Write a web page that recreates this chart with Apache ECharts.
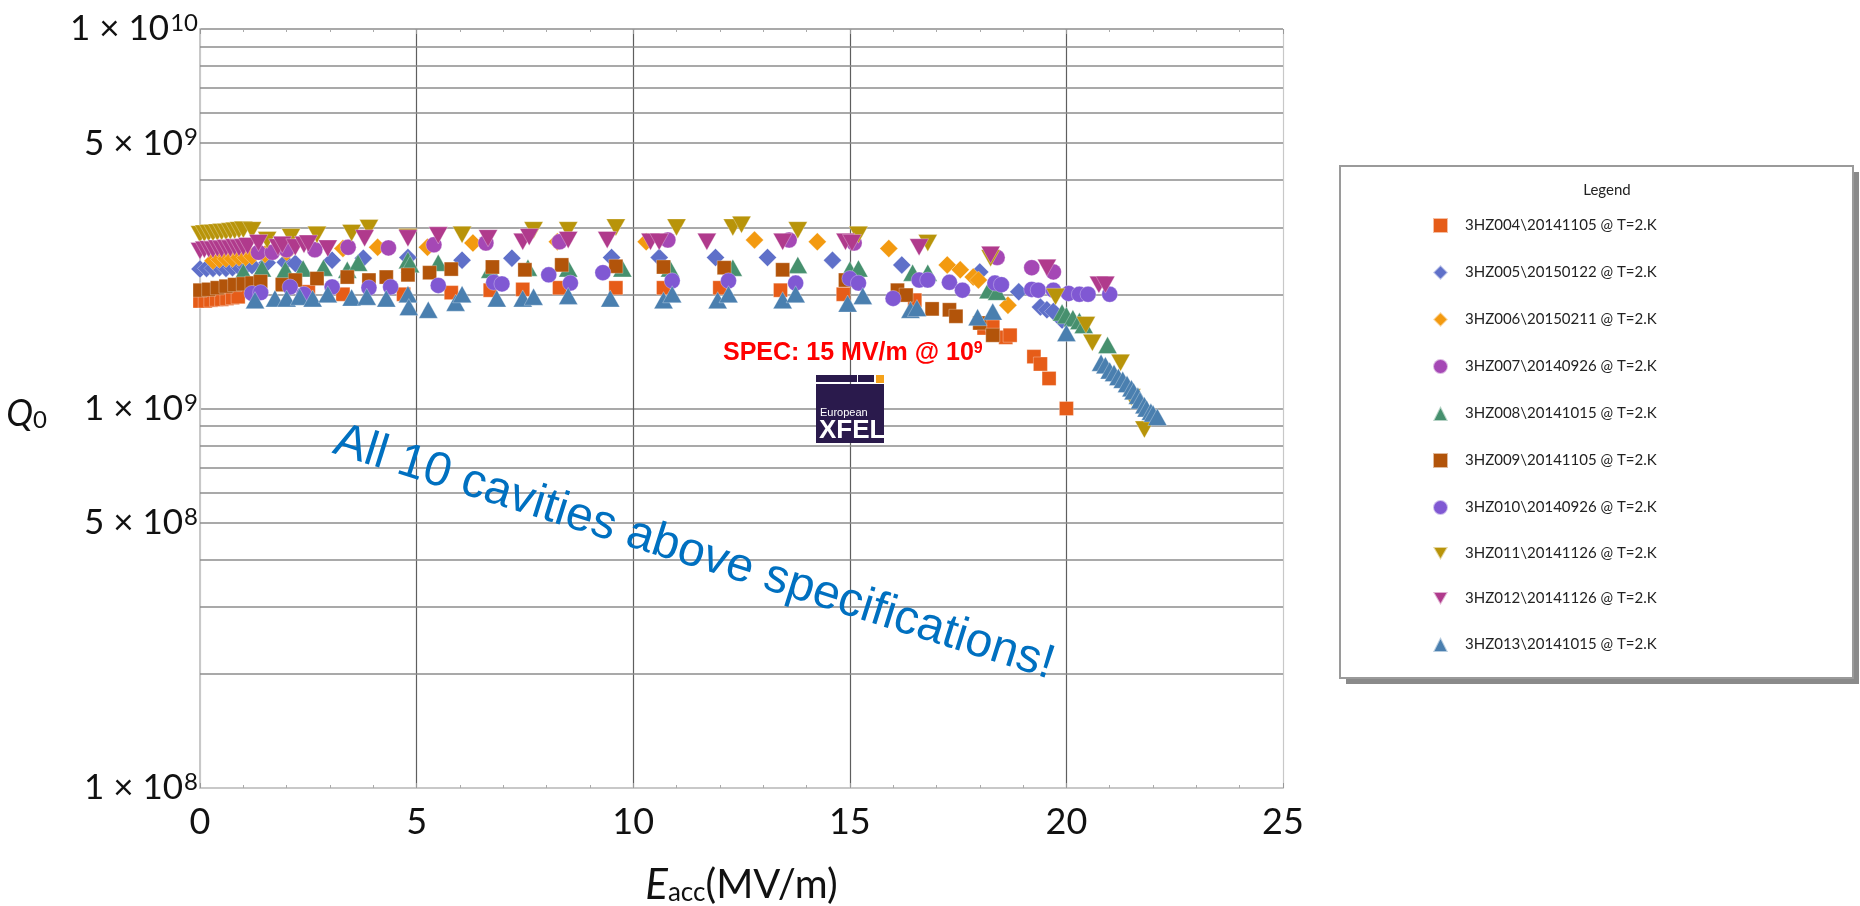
<!DOCTYPE html>
<html>
<head>
<meta charset="utf-8">
<title>Q0 vs Eacc</title>
<script src="https://cdn.jsdelivr.net/npm/echarts@6/dist/echarts.min.js"></script>
<style>
html, body { margin: 0; padding: 0; background: #fff; }
#main { width: 1860px; height: 906px; }
</style>
</head>
<body>
<div id="main"></div>
<script>
// cavity names (legend order)
var seriesNames = [
    '3HZ004\\20141105 @ T=2.K',
    '3HZ005\\20150122 @ T=2.K',
    '3HZ006\\20150211 @ T=2.K',
    '3HZ007\\20140926 @ T=2.K',
    '3HZ008\\20141015 @ T=2.K',
    '3HZ009\\20141105 @ T=2.K',
    '3HZ010\\20140926 @ T=2.K',
    '3HZ011\\20141126 @ T=2.K',
    '3HZ012\\20141126 @ T=2.K',
    '3HZ013\\20141015 @ T=2.K'
];

// [Eacc (MV/m), Q0]
var hz004 = [[0,1.92e9],[0.12,1.92e9],[0.25,1.93e9],[0.38,1.94e9],[0.5,1.94e9],[0.62,1.95e9],[0.75,1.96e9],[0.88,1.97e9],
    [2.5,2.03e9],[3.3,2.0e9],[4.7,2.0e9],[5.8,2.02e9],[6.7,2.05e9],[7.45,2.06e9],[8.3,2.08e9],[9.6,2.08e9],[10.7,2.08e9],
    [12.0,2.08e9],[13.4,2.05e9],[14.85,2.0e9],[16.5,1.93e9],[18.1,1.63e9],[18.3,1.66e9],[18.6,1.54e9],[18.7,1.56e9],
    [19.25,1.37e9],[19.4,1.31e9],[19.6,1.2e9],[20.0,1.0e9]];
var hz005 = [[0,2.33e9],[0.15,2.34e9],[0.3,2.34e9],[0.45,2.35e9],[0.6,2.34e9],[0.75,2.35e9],[0.9,2.36e9],[1.05,2.37e9],[1.2,2.38e9],
    [1.55,2.42e9],[1.97,2.43e9],[2.2,2.41e9],[3.05,2.46e9],[3.77,2.49e9],[4.8,2.5e9],[6.05,2.46e9],[7.2,2.49e9],[9.5,2.5e9],
    [10.6,2.5e9],[11.9,2.5e9],[13.1,2.5e9],[14.6,2.46e9],[16.2,2.39e9],[18.0,2.29e9],[18.9,2.03e9],[19.4,1.85e9],[19.55,1.82e9],
    [19.7,1.8e9],[19.9,1.71e9]];
var hz006 = [[0.3,2.45e9],[0.45,2.47e9],[0.6,2.48e9],[0.75,2.48e9],[0.9,2.5e9],[1.05,2.5e9],[1.2,2.52e9],[1.5,2.55e9],[2.0,2.58e9],
    [3.3,2.64e9],[4.1,2.66e9],[5.25,2.66e9],[6.3,2.73e9],[8.25,2.75e9],[10.3,2.75e9],[12.8,2.78e9],[14.25,2.75e9],[15.9,2.64e9],
    [17.25,2.39e9],[17.55,2.32e9],[17.85,2.22e9],[17.97,2.18e9],[18.65,1.87e9]];
var hz007 = [[1.35,2.58e9],[1.67,2.58e9],[2.0,2.62e9],[2.65,2.62e9],[3.42,2.66e9],[4.35,2.65e9],[5.4,2.7e9],[6.6,2.73e9],
    [8.3,2.75e9],[10.8,2.78e9],[13.6,2.78e9],[15.1,2.73e9],[18.4,2.5e9],[19.2,2.35e9],[19.7,2.29e9]];
var hz008 = [[1.0,2.29e9],[1.43,2.34e9],[1.97,2.32e9],[2.38,2.34e9],[2.85,2.35e9],[3.4,2.32e9],[3.65,2.42e9],[4.8,2.46e9],
    [4.85,2.4e9],[5.5,2.42e9],[6.7,2.32e9],[7.57,2.35e9],[8.5,2.34e9],[9.75,2.34e9],[10.85,2.34e9],[12.3,2.35e9],[13.8,2.39e9],
    [15.0,2.32e9],[15.2,2.34e9],[16.45,2.28e9],[16.8,2.28e9],[18.2,2.05e9],[18.4,2.03e9],[19.9,1.79e9],[20.0,1.76e9],
    [20.15,1.73e9],[20.3,1.7e9],[20.4,1.66e9],[20.95,1.47e9]];
var hz009 = [[0,2.05e9],[0.2,2.06e9],[0.4,2.08e9],[0.6,2.1e9],[0.8,2.12e9],[1.0,2.13e9],[1.2,2.14e9],[1.4,2.16e9],[1.9,2.12e9],
    [2.2,2.18e9],[2.7,2.2e9],[3.4,2.22e9],[3.9,2.18e9],[4.3,2.22e9],[4.8,2.25e9],[5.3,2.28e9],[5.8,2.33e9],[6.75,2.36e9],
    [7.5,2.32e9],[8.35,2.39e9],[9.6,2.37e9],[10.7,2.36e9],[12.1,2.35e9],[13.45,2.32e9],[14.9,2.18e9],[16.1,2.05e9],[16.3,1.99e9],
    [16.9,1.83e9],[17.3,1.82e9],[17.45,1.75e9],[18.0,1.68e9],[18.3,1.56e9]];
var hz010 = [[1.2,2.01e9],[1.4,2.02e9],[2.08,2.09e9],[2.4,2.0e9],[3.05,2.09e9],[3.9,2.08e9],[4.4,2.09e9],[5.5,2.11e9],[6.78,2.15e9],
    [6.97,2.13e9],[8.05,2.25e9],[8.55,2.14e9],[9.3,2.28e9],[10.9,2.17e9],[12.2,2.17e9],[13.75,2.14e9],[15.0,2.2e9],[15.2,2.14e9],
    [16.0,1.95e9],[16.6,2.18e9],[16.8,2.18e9],[17.3,2.15e9],[17.6,2.05e9],[18.35,2.14e9],[18.5,2.12e9],[19.2,2.06e9],
    [19.35,2.05e9],[19.7,2.05e9],[20.05,2.01e9],[20.3,2.0e9],[20.5,2.0e9],[21.0,2.0e9]];
var hz011 = [[0,2.88e9],[0.1,2.89e9],[0.2,2.9e9],[0.3,2.9e9],[0.4,2.91e9],[0.5,2.92e9],[0.6,2.92e9],[0.7,2.93e9],[0.8,2.94e9],
    [0.9,2.95e9],[1.0,2.96e9],[1.2,2.95e9],[1.55,2.78e9],[2.1,2.83e9],[2.7,2.87e9],[3.5,2.9e9],[3.9,2.99e9],[4.8,2.83e9],
    [6.05,2.87e9],[7.7,2.95e9],[8.5,2.95e9],[9.6,3.0e9],[11.0,3.0e9],[12.3,3.0e9],[12.5,3.05e9],[13.8,2.95e9],[15.2,2.87e9],
    [16.8,2.73e9],[18.25,2.49e9],[19.75,1.97e9],[20.45,1.66e9],[20.6,1.49e9],[21.25,1.32e9],[21.5,1.07e9],[21.8,0.88e9]];
var hz012 = [[0,2.6e9],[0.1,2.62e9],[0.2,2.63e9],[0.3,2.62e9],[0.4,2.64e9],[0.5,2.63e9],[0.6,2.65e9],[0.7,2.64e9],[0.8,2.66e9],
    [0.9,2.65e9],[1.0,2.66e9],[1.1,2.68e9],[1.35,2.73e9],[1.8,2.66e9],[1.9,2.7e9],[2.2,2.66e9],[2.4,2.7e9],[2.5,2.72e9],
    [2.95,2.64e9],[3.8,2.81e9],[4.8,2.81e9],[5.5,2.86e9],[6.65,2.81e9],[7.45,2.75e9],[7.6,2.83e9],[8.5,2.78e9],[9.4,2.78e9],
    [10.4,2.75e9],[10.6,2.75e9],[11.7,2.75e9],[13.45,2.75e9],[14.9,2.75e9],[15.05,2.73e9],[16.6,2.66e9],[18.25,2.54e9],
    [19.55,2.35e9],[20.75,2.12e9],[20.9,2.12e9]];
var hz013 = [[1.27,1.93e9],[1.73,1.95e9],[2.0,1.95e9],[2.3,1.97e9],[2.6,1.95e9],[2.95,2.0e9],[3.5,1.96e9],[3.85,1.97e9],[4.3,1.95e9],
    [4.8,2.0e9],[4.82,1.85e9],[5.27,1.82e9],[5.9,1.9e9],[6.05,2.0e9],[6.85,1.95e9],[7.45,1.95e9],[7.7,1.97e9],[8.5,1.98e9],
    [9.47,1.95e9],[10.7,1.93e9],[10.9,2.0e9],[11.95,1.93e9],[12.2,2.0e9],[13.45,1.93e9],[13.75,2.0e9],[14.95,1.89e9],[15.3,1.98e9],
    [16.4,1.82e9],[16.55,1.84e9],[17.95,1.74e9],[18.3,1.8e9],[20.0,1.58e9],[20.8,1.32e9],[20.9,1.3e9],[21.0,1.26e9],[21.1,1.24e9],
    [21.2,1.21e9],[21.3,1.19e9],[21.4,1.16e9],[21.5,1.13e9],[21.55,1.11e9],[21.65,1.08e9],[21.7,1.05e9],[21.8,1.02e9],
    [21.85,1.0e9],[21.95,0.98e9],[22.0,0.97e9],[22.1,0.95e9]];

// y grid: extra lines between decades, and the 5x labels
var minorTicks = [2e8, 3e8, 4e8, 5e8, 6e8, 7e8, 8e8, 9e8, 2e9, 3e9, 4e9, 5e9, 6e9, 7e9, 8e9, 9e9];
var halfLabels = [5e8, 5e9];

var colors = ['#E65C18', '#5F70C9', '#F39A10', '#A548B5', '#46906E', '#B2540A', '#8058D3', '#B8940A', '#B03A8C', '#4A7FAF'];
var downTri = 'path://M0,0L20,0L10,17.3Z';

var FONT = 'Lato, "Open Sans", sans-serif';
var supRich = {
    sup: { fontSize: 24, fontFamily: FONT, color: '#111', verticalAlign: 'top', padding: [0, 0, 0, 1] }
};
function sciLabel(v) {
    var e = Math.floor(Math.log10(v) + 1e-9);
    var m = Math.round(v / Math.pow(10, e));
    return m + ' \u00d7 10{sup|' + e + '}';
}

function makeScatter(i, data, symbol, size) {
    return {
        name: seriesNames[i],
        type: 'scatter',
        data: data,
        symbol: symbol,
        symbolSize: size,
        z: 3,
        itemStyle: { color: colors[i], opacity: 1, borderColor: 'rgba(255,255,255,0.6)', borderWidth: 0.5 },
        emphasis: { disabled: true }
    };
}

var myChart = echarts.init(document.getElementById('main'));

var option = {
    animation: false,
    backgroundColor: '#fff',
    grid: { left: 200, right: 577, top: 29, bottom: 118, containLabel: false, outerBoundsMode: 'none' },
    xAxis: [{
        type: 'value',
        min: 0,
        max: 25,
        interval: 5,
        axisLine: { lineStyle: { color: '#c8c8c8', width: 2 } },
        axisTick: { show: true, inside: true, length: 5, lineStyle: { color: '#999' } },
        minorTick: { show: true, splitNumber: 5, length: 3, lineStyle: { color: '#aaa' } },
        axisLabel: { fontSize: 36, fontFamily: FONT, color: '#111', margin: 16 },
        splitLine: { show: true, lineStyle: { color: ['#c8c8c8', '#5e5e5e', '#5e5e5e', '#5e5e5e', '#5e5e5e', '#c8c8c8'], width: 1.2 } },
        name: '{e|E}{sub|acc}(MV/m)',
        nameLocation: 'middle',
        nameGap: 76,
        nameTextStyle: {
            fontSize: 40, fontFamily: FONT, color: '#111',
            rich: {
                e: { fontSize: 42, fontStyle: 'italic', fontFamily: FONT, color: '#111' },
                sub: { fontSize: 26, fontFamily: FONT, color: '#111', verticalAlign: 'bottom' }
            }
        }
    }, {
        type: 'value',
        position: 'top',
        min: 0,
        max: 25,
        interval: 5,
        axisLine: { show: false },
        axisTick: { show: true, inside: true, length: 5, lineStyle: { color: '#999' } },
        minorTick: { show: true, splitNumber: 5, length: 3, lineStyle: { color: '#aaa' } },
        axisLabel: { show: false },
        splitLine: { show: false }
    }],
    yAxis: {
        type: 'log',
        logBase: 10,
        min: 1e8,
        max: 1e10,
        axisLine: { show: true, lineStyle: { color: '#c8c8c8', width: 2 } },
        axisTick: { show: false },
        axisLabel: {
            fontSize: 35, fontFamily: FONT, color: '#111', margin: 2,
            showMinLabel: true, showMaxLabel: true,
            formatter: sciLabel,
            rich: supRich
        },
        splitLine: { show: true, lineStyle: { color: ['#c8c8c8', '#8c8c8c', '#8c8c8c'], width: 1.5 } },
        name: '{q|Q}{sub|0}',
        nameLocation: 'middle',
        nameRotate: 0,
        nameGap: 153,
        nameTextStyle: {
            fontSize: 34, fontFamily: FONT, color: '#111',
            padding: [12, 0, 0, 0],
            rich: {
                q: { fontSize: 36, fontStyle: 'italic', fontFamily: FONT, color: '#111' },
                sub: { fontSize: 24, fontFamily: FONT, color: '#111', verticalAlign: 'bottom' }
            }
        }
    },
    legend: {
        orient: 'vertical',
        left: 1427,
        top: 212,
        itemWidth: 15,
        itemHeight: 15,
        itemGap: 30,
        selectedMode: false,
        data: seriesNames,
        textStyle: { fontSize: 15, fontFamily: FONT, color: '#222', padding: [0, 0, 0, 12] }
    },
    graphic: [
        { type: 'rect', z: 0, shape: { x: 1346, y: 172, width: 513, height: 512 }, style: { fill: '#8a8a8a' } },
        { type: 'rect', z: 1, shape: { x: 1340, y: 166, width: 513, height: 512 }, style: { fill: '#fff', stroke: '#9a9a9a', lineWidth: 2 } },
        { type: 'text', z: 2, x: 1607, y: 190, style: { text: 'Legend', font: '15px ' + FONT, fill: '#222', textAlign: 'center', textVerticalAlign: 'middle' } },
        // rotated note
        { type: 'text', z: 10, x: 694, y: 553, rotation: -17.5 * Math.PI / 180,
          style: { text: 'All 10 cavities above specifications!', font: '48px "Liberation Sans", Arial, sans-serif', fill: '#0070C0', textAlign: 'center', textVerticalAlign: 'middle' } },
        // spec note
        { type: 'text', z: 10, x: 723, y: 353,
          style: { text: '{t|SPEC: 15 MV/m @ 10}{s|9}', textAlign: 'left', textVerticalAlign: 'middle',
            rich: {
                t: { font: 'bold 25px "Liberation Sans Narrow", "Liberation Sans", Arial, sans-serif', fill: '#ff0000' },
                s: { font: 'bold 16px "Liberation Sans Narrow", "Liberation Sans", Arial, sans-serif', fill: '#ff0000', verticalAlign: 'top' }
            } } },
        // European XFEL logo
        { type: 'rect', z: 10, shape: { x: 816, y: 375, width: 41, height: 7 }, style: { fill: '#2a1a4c' } },
        { type: 'rect', z: 10, shape: { x: 858, y: 375, width: 16, height: 7 }, style: { fill: '#2a1a4c' } },
        { type: 'rect', z: 10, shape: { x: 876, y: 375, width: 8, height: 8 }, style: { fill: '#f5a21a' } },
        { type: 'rect', z: 10, shape: { x: 816, y: 384, width: 68, height: 59 }, style: { fill: '#2a1a4c' } },
        { type: 'text', z: 11, x: 820, y: 413, style: { text: 'European', font: '11px "Liberation Sans Narrow", "Liberation Sans", sans-serif', fill: '#fff', textVerticalAlign: 'middle' } },
        { type: 'text', z: 11, x: 819, y: 431, style: { text: 'XFEL', font: 'bold 26px "Liberation Sans Narrow", "Liberation Sans", sans-serif', fill: '#fff', textVerticalAlign: 'middle' } }
    ],
    series: [
        {
            name: 'grid',
            type: 'scatter',
            data: [],
            silent: true,
            markLine: {
                silent: true,
                symbol: 'none',
                animation: false,
                z: 1,
                lineStyle: { type: 'solid', color: '#8c8c8c', width: 1.5 },
                label: { show: false },
                emphasis: { disabled: true },
                data: minorTicks.map(function (v) {
                    var d = { yAxis: v };
                    if (halfLabels.indexOf(v) >= 0) {
                        d.label = {
                            show: true, position: 'start', distance: 2,
                            fontSize: 35, fontFamily: FONT, color: '#111',
                            formatter: function () { return sciLabel(v); },
                            rich: supRich
                        };
                    }
                    return d;
                })
            }
        },
        makeScatter(0, hz004, 'rect', 14),
        makeScatter(1, hz005, 'diamond', 18),
        makeScatter(2, hz006, 'diamond', 18),
        makeScatter(3, hz007, 'circle', 16),
        makeScatter(4, hz008, 'triangle', [19, 17]),
        makeScatter(5, hz009, 'rect', 14),
        makeScatter(6, hz010, 'circle', 16),
        makeScatter(7, hz011, downTri, [19, 17]),
        makeScatter(8, hz012, downTri, [19, 17]),
        makeScatter(9, hz013, 'triangle', [19, 17])
    ]
};

myChart.setOption(option);
</script>
</body>
</html>
